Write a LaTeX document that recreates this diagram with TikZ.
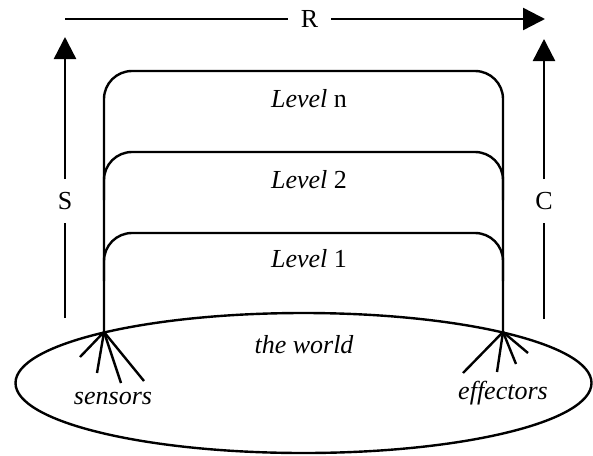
\documentclass[tikz,border=0pt]{standalone}
\usepackage{fontspec}
\setmainfont{Liberation Serif}
\usetikzlibrary{arrows.meta,shapes.geometric}
\begin{document}
\begin{tikzpicture}[x=1pt,y=-1pt,
  line/.style={line width=2.4pt},
  tip/.style={-{Triangle[length=22pt,width=22pt]}},
  lbl/.style={font=\fontsize{26}{30}\selectfont, inner sep=0pt},
  gaplbl/.style={lbl, inner xsep=13pt, inner ysep=13pt},
  level/.style={line, rounded corners=28pt}]
\useasboundingbox (0,0) rectangle (593,455);
% world
\node[draw, line, ellipse, minimum width=576pt, minimum height=140pt, inner sep=0pt] (world) at (303.5,383) {};
\node[lbl] (worldtxt) at (304,345) {\itshape the world};
% hubs
\coordinate (sh) at (104,332);
\coordinate (eh) at (503,332);
% levels
\coordinate (nL) at (104,71);
\coordinate (nR) at (503,71);
\draw[level] (sh) -- (nL) -- (nR) -- (eh);
\coordinate (tL) at (104,152);
\coordinate (tR) at (503,152);
\draw[level] (104,200) -- (tL) -- (tR) -- (503,200);
\coordinate (oL) at (104,233);
\coordinate (oR) at (503,233);
\draw[level] (104,281) -- (oL) -- (oR) -- (503,281);
\node[lbl] (ln) at (309,99) {\textit{Level} n};
\node[lbl] (l2) at (309,180) {\textit{Level} 2};
\node[lbl] (l1) at (309,259) {\textit{Level} 1};
% sensors
\coordinate (s1) at (80,357);
\coordinate (s2) at (97,373);
\coordinate (s3) at (121,383);
\coordinate (s4) at (144,381);
\foreach \p in {s1,s2,s3,s4} \draw[line] (sh) -- (\p);
\node[lbl] (sens) at (113,398) {\itshape sensors};
% effectors
\coordinate (e1) at (463,373);
\coordinate (e2) at (497,372);
\coordinate (e3) at (516,364);
\coordinate (e4) at (528,353);
\foreach \p in {e1,e2,e3,e4} \draw[line] (eh) -- (\p);
\node[lbl] (eff) at (503,393) {\itshape effectors};
% R arrow
\node[gaplbl] (R) at (309.5,19) {R};
\coordinate (r0) at (65,19);
\coordinate (r1) at (545,19);
\draw[line] (r0) -- (R.west);
\draw[line,tip] (R.east) -- (r1);
% S arrow
\node[gaplbl] (S) at (65,201) {S};
\coordinate (sa0) at (65,318);
\coordinate (sa1) at (65,37);
\draw[line] (sa0) -- (S.south);
\draw[line,tip] (S.north) -- (sa1);
% C arrow
\node[gaplbl] (C) at (544,201) {C};
\coordinate (ca0) at (544,319);
\coordinate (ca1) at (544,39);
\draw[line] (ca0) -- (C.south);
\draw[line,tip] (C.north) -- (ca1);
\end{tikzpicture}
\end{document}
